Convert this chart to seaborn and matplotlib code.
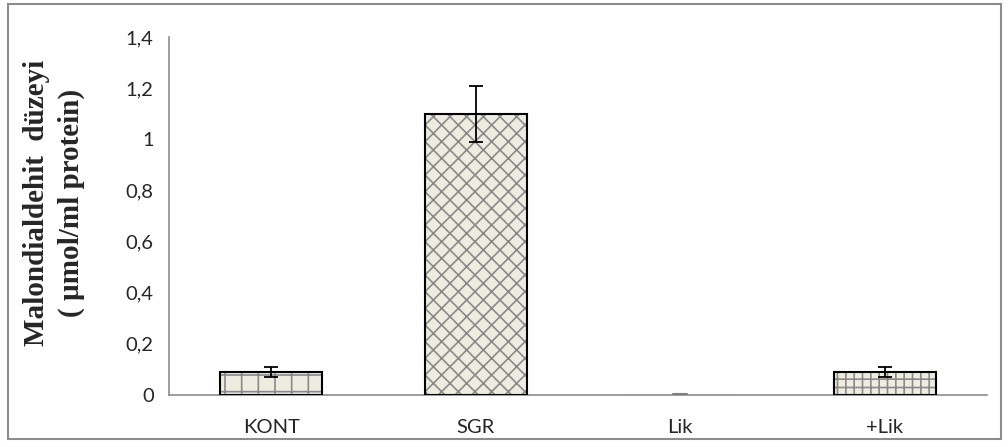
import numpy as np
import pandas as pd
import matplotlib
matplotlib.use("Agg")
import matplotlib.pyplot as plt
import seaborn as sns
from matplotlib.patches import Rectangle

groups = ["KONT", "SGR", "Lik", "+Lik"]
mda = [0.09, 1.10, 0.002, 0.09]
mda_err = [0.02, 0.11, 0.0, 0.02]
hatches = ["+", "xx", "", "++"]

df = pd.DataFrame({"grup": groups, "mda": mda})

sns.set_style("white")
plt.rcParams["font.family"] = ["Lato", "DejaVu Sans"]
plt.rcParams["hatch.linewidth"] = 1.2

fig = plt.figure(figsize=(10.08, 4.47), dpi=100)
ax = fig.add_axes([169 / 1008, 1 - 395 / 447, 818 / 1008, 358 / 447])

# outer frame like the excel chart area
fig.patches.append(Rectangle((8 / 1008, 1 - 439 / 447), 993 / 1008, 435 / 447,
                             transform=fig.transFigure, fill=False,
                             edgecolor="#8c8c8c", linewidth=1.5))

sns.barplot(data=df, x="grup", y="mda", color="#EEECE1", width=0.5,
            errorbar=None, saturation=1, ax=ax)

centers = []
for p, h, v in zip(ax.patches, hatches, mda):
    p.set_hatch(h)
    p.set_edgecolor("#8a8a8a")
    p.set_linewidth(0)
    x0, w = p.get_x(), p.get_width()
    centers.append(x0 + w / 2)
    if v < 0.01:
        # almost empty bar: excel leaves only a tiny dash
        ax.plot([x0 + w * 0.43, x0 + w * 0.57], [v, v], color="#7f7f7f", lw=1.5, zorder=3)
        continue
    # black outline on top
    ax.add_patch(Rectangle((x0, 0), w, p.get_height(), fill=False,
                           edgecolor="black", linewidth=1.5, zorder=3))

ax.errorbar([c for c, e in zip(centers, mda_err) if e > 0],
            [m for m, e in zip(mda, mda_err) if e > 0],
            yerr=[e for e in mda_err if e > 0], fmt="none", ecolor="black",
            elinewidth=1.3, capsize=5, capthick=1.3, zorder=4)

ax.set_xlim(-0.5, 3.5)
ax.set_ylim(0, 1.4)
ax.set_yticks(np.arange(0, 1.41, 0.2))
ax.set_yticklabels(["0", "0,2", "0,4", "0,6", "0,8", "1", "1,2", "1,4"])
ax.set_xticks([-0.5, 0.5, 1.5, 2.5, 3.5])
ax.set_xticklabels([])
ax.set_xticks(range(4), minor=True)
ax.set_xticklabels(groups, minor=True)
ax.tick_params(axis="x", which="major", length=7, color="#8c8c8c", width=1.2, direction="out")
ax.tick_params(axis="x", which="minor", length=0, pad=17, labelsize=14.5)
ax.tick_params(axis="y", length=5, color="#8c8c8c", width=1.2, direction="out", labelsize=14.5, pad=6)

for s in ["top", "right"]:
    ax.spines[s].set_visible(False)
for s in ["left", "bottom"]:
    ax.spines[s].set_color("#8c8c8c")
    ax.spines[s].set_linewidth(1.2)

ax.set_xlabel("")
ax.set_ylabel("")
fig.text(54 / 1008, 1 - 203 / 447, "Malondialdehit  düzeyi\n( µmol/ml protein)",
         rotation=90, ha="center", va="center", fontsize=21, fontweight="bold",
         family=["Liberation Serif", "DejaVu Serif"], linespacing=1.35)

fig.savefig("out.png", dpi=100)
